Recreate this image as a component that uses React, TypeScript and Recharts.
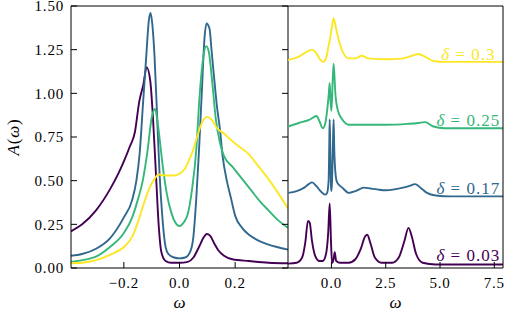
import { LineChart, Line, XAxis, YAxis, ReferenceDot } from "recharts";

// Spectral function A(ω) for four dopings: a zoom on the low-energy window
// (left) and the full-band view with the curves stacked by an offset (right).

const deltas = [0.03, 0.17, 0.25, 0.3];
const colors = ["#440154", "#31688e", "#35b779", "#fde725"];

// ---- left panel: low-energy window ----
const wLow03 = [-0.39, -0.35, -0.3, -0.25, -0.22, -0.2, -0.18, -0.16, -0.145, -0.13, -0.118, -0.105, -0.095, -0.085, -0.075, -0.065, -0.05, -0.03, 0, 0.03, 0.05, 0.07, 0.085, 0.098, 0.11, 0.125, 0.14, 0.16, 0.19, 0.25, 0.32, 0.39];
const aLow03 = [0.21, 0.25, 0.33, 0.45, 0.54, 0.61, 0.69, 0.78, 0.95, 1.05, 1.15, 1.07, 0.85, 0.55, 0.25, 0.09, 0.04, 0.03, 0.03, 0.035, 0.06, 0.12, 0.17, 0.195, 0.185, 0.14, 0.1, 0.07, 0.05, 0.04, 0.03, 0.027];

const wLow17 = [-0.39, -0.35, -0.3, -0.25, -0.2, -0.17, -0.155, -0.143, -0.132, -0.12, -0.11, -0.104, -0.098, -0.09, -0.08, -0.072, -0.062, -0.05, -0.04, -0.02, 0, 0.02, 0.04, 0.05, 0.06, 0.07, 0.08, 0.09, 0.097, 0.108, 0.115, 0.125, 0.135, 0.145, 0.155, 0.17, 0.185, 0.2, 0.225, 0.25, 0.28, 0.31, 0.35, 0.39];
const aLow17 = [0.07, 0.08, 0.11, 0.17, 0.29, 0.39, 0.5, 0.66, 0.92, 1.2, 1.42, 1.46, 1.4, 1.22, 0.85, 0.55, 0.3, 0.12, 0.08, 0.06, 0.055, 0.06, 0.1, 0.18, 0.39, 0.67, 1.0, 1.32, 1.4, 1.37, 1.25, 1.08, 0.92, 0.8, 0.64, 0.5, 0.4, 0.3, 0.23, 0.19, 0.16, 0.14, 0.12, 0.105];

const wLow25 = [-0.39, -0.35, -0.3, -0.25, -0.2, -0.17, -0.15, -0.132, -0.115, -0.1, -0.088, -0.08, -0.07, -0.06, -0.045, -0.03, -0.015, 0, 0.015, 0.03, 0.045, 0.06, 0.072, 0.085, 0.096, 0.105, 0.118, 0.13, 0.145, 0.16, 0.19, 0.23, 0.26, 0.29, 0.32, 0.35, 0.39];
const aLow25 = [0.035, 0.045, 0.065, 0.12, 0.2, 0.29, 0.39, 0.5, 0.67, 0.86, 0.91, 0.85, 0.72, 0.58, 0.42, 0.32, 0.26, 0.24, 0.26, 0.31, 0.45, 0.67, 0.98, 1.2, 1.27, 1.24, 1.06, 0.86, 0.72, 0.64, 0.58, 0.5, 0.44, 0.38, 0.33, 0.28, 0.23];

const wLow30 = [-0.39, -0.35, -0.3, -0.25, -0.2, -0.17, -0.15, -0.132, -0.11, -0.09, -0.075, -0.05, -0.02, 0, 0.02, 0.035, 0.05, 0.065, 0.08, 0.1, 0.115, 0.135, 0.16, 0.18, 0.21, 0.25, 0.28, 0.31, 0.35, 0.39];
const aLow30 = [0.027, 0.03, 0.045, 0.075, 0.12, 0.18, 0.26, 0.35, 0.45, 0.51, 0.535, 0.53, 0.53, 0.54, 0.57, 0.62, 0.68, 0.76, 0.83, 0.865, 0.85, 0.8, 0.77, 0.74, 0.7, 0.65, 0.59, 0.53, 0.44, 0.34];

// ---- right panel: full band, shifted up by offsets ----
const offsets = [0, 0.38, 0.77, 1.15];

const wFull03 = [-2, -1.6, -1.35, -1.2, -1.08, -1, -0.9, -0.75, -0.55, -0.4, -0.25, -0.15, -0.08, -0.02, 0.03, 0.1, 0.15, 0.22, 0.4, 0.8, 1.1, 1.35, 1.55, 1.65, 1.8, 2, 2.3, 2.8, 3.1, 3.35, 3.55, 3.7, 3.9, 4.2, 4.8, 6, 7.9];
const aFull03 = [0.025, 0.03, 0.06, 0.15, 0.27, 0.26, 0.16, 0.07, 0.04, 0.04, 0.08, 0.2, 0.37, 0.15, 0.03, 0.05, 0.09, 0.04, 0.03, 0.03, 0.05, 0.11, 0.18, 0.19, 0.14, 0.06, 0.03, 0.03, 0.06, 0.15, 0.23, 0.18, 0.08, 0.03, 0.02, 0.02, 0.02];

const wFull17 = [-2, -1.6, -1.25, -1.05, -0.89, -0.7, -0.5, -0.3, -0.2, -0.13, -0.1, -0.08, -0.05, -0.02, 0, 0.03, 0.07, 0.1, 0.13, 0.18, 0.26, 0.5, 0.8, 1.1, 1.5, 1.8, 2.1, 2.5, 2.9, 3.3, 3.6, 3.85, 4.1, 4.4, 4.8, 5.5, 7.9];
const aFull17 = [0.05, 0.06, 0.08, 0.1, 0.11, 0.09, 0.06, 0.04, 0.05, 0.12, 0.32, 0.47, 0.27, 0.09, 0.06, 0.12, 0.34, 0.47, 0.3, 0.17, 0.11, 0.08, 0.05, 0.06, 0.08, 0.075, 0.07, 0.065, 0.07, 0.08, 0.09, 0.1, 0.08, 0.05, 0.035, 0.03, 0.03];

const wFull25 = [-2, -1.5, -1, -0.69, -0.55, -0.4, -0.3, -0.2, -0.12, -0.08, -0.04, 0, 0.05, 0.1, 0.18, 0.3, 0.5, 0.8, 1.5, 2.5, 3.5, 4, 4.3, 4.7, 5.2, 7.9];
const aFull25 = [0.04, 0.06, 0.08, 0.1, 0.07, 0.03, 0.05, 0.13, 0.23, 0.29, 0.18, 0.13, 0.28, 0.4, 0.23, 0.13, 0.08, 0.05, 0.05, 0.05, 0.055, 0.06, 0.065, 0.04, 0.03, 0.03];

const wFull30 = [-2, -1.5, -1.1, -0.89, -0.7, -0.5, -0.38, -0.25, -0.12, -0.05, 0.02, 0.1, 0.2, 0.35, 0.55, 0.8, 1.1, 1.4, 1.7, 2.5, 3.3, 3.7, 4, 4.3, 4.7, 5.2, 7.9];
const aFull30 = [0.04, 0.06, 0.09, 0.1, 0.08, 0.04, 0.03, 0.05, 0.13, 0.17, 0.23, 0.28, 0.23, 0.15, 0.08, 0.05, 0.05, 0.065, 0.05, 0.045, 0.05, 0.065, 0.075, 0.06, 0.035, 0.03, 0.03];

const lowTicks = [-0.2, 0, 0.2];
const fullTicks = [0, 2.5, 5, 7.5];
const yTicks = [0, 0.25, 0.5, 0.75, 1, 1.25, 1.5];

const lowCurves = [
  [wLow03, aLow03],
  [wLow17, aLow17],
  [wLow25, aLow25],
  [wLow30, aLow30],
];
const fullCurves = [
  [wFull03, aFull03],
  [wFull17, aFull17],
  [wFull25, aFull25],
  [wFull30, aFull30],
];

const FONT = "Liberation Serif, DejaVu Serif, serif";
const FS = 15;
const TICK = 6;
const LINE_W = 1.9;
const LABEL_LIFT = 0.075;
const LABEL_W = 6.3;

const txt = { fontFamily: FONT, fontSize: FS, letterSpacing: 0.8 };

const toPoints = (w: number[], a: number[], shift = 0) =>
  w.map((x, i) => ({ w: x, a: a[i] + shift }));

const fmt = (v: number, d: number) => v.toFixed(d).replace("-", "\u2212");

function BottomTick({ x, y, payload, digits }: any) {
  return (
    <g>
      <line x1={x} x2={x} y1={y} y2={y - TICK} stroke="#000" strokeWidth={1} />
      <text x={x} y={y + 19.5} textAnchor="middle" style={txt} fill="#000">
        {fmt(payload.value, digits)}
      </text>
    </g>
  );
}

function TopTick({ x, y }: any) {
  return <line x1={x} x2={x} y1={y} y2={y + TICK} stroke="#000" strokeWidth={1} />;
}

function LeftTick({ x, y, payload }: any) {
  return (
    <g>
      <line x1={x} x2={x + TICK} y1={y} y2={y} stroke="#000" strokeWidth={1} />
      <text x={x - 7} y={y} dy="0.36em" textAnchor="end" style={txt} fill="#000">
        {fmt(payload.value, 2)}
      </text>
    </g>
  );
}

function RightTick({ x, y }: any) {
  return <line x1={x} x2={x - TICK} y1={y} y2={y} stroke="#000" strokeWidth={1} />;
}

function OmegaLabel({ viewBox }: any) {
  return (
    <text x={viewBox.x + viewBox.width / 2} y={viewBox.y + 40} textAnchor="middle"
      style={{ fontFamily: FONT, fontSize: 17, fontStyle: "italic" }} fill="#000">
      ω
    </text>
  );
}

function AwLabel({ viewBox }: any) {
  const cx = viewBox.x + viewBox.width - 58;
  const cy = viewBox.y + viewBox.height / 2;
  return (
    <text x={cx} y={cy} transform={`rotate(-90 ${cx} ${cy})`} dy="0.35em" textAnchor="middle"
      style={{ fontFamily: FONT, fontSize: 17, letterSpacing: 0.8 }} fill="#000">
      <tspan fontStyle="italic">A</tspan>(<tspan fontStyle="italic">ω</tspan>)
    </text>
  );
}

const deltaLabel = (d: number, color: string) => ({ viewBox }: any) => (
  <text x={viewBox.x} y={viewBox.y} dy="0.35em" textAnchor="middle"
    style={{ fontFamily: FONT, fontSize: 17, letterSpacing: 1 }} fill={color}>
    <tspan fontStyle="italic">δ</tspan> = {d}
  </text>
);

const axisLine = { stroke: "#000", strokeWidth: 1 };

export default function App() {
  return (
    <div style={{ position: "absolute", left: 0, top: 0, width: 510, height: 316, background: "#fff" }}>
      <div style={{ position: "absolute", left: 0, top: 0 }}>
        <LineChart width={290} height={316} margin={{ top: 5, right: 1, bottom: 8, left: 11 }}>
          <XAxis dataKey="w" type="number" domain={[-0.39, 0.39]} allowDataOverflow ticks={lowTicks} interval={0}
            height={40} tickSize={0} tickMargin={0} tickLine={false} axisLine={axisLine}
            tick={(p: any) => <BottomTick {...p} digits={1} />} label={<OmegaLabel />} />
          <XAxis xAxisId="top" orientation="top" type="number" domain={[-0.39, 0.39]} allowDataOverflow ticks={lowTicks} interval={0}
            height={1} tickSize={0} tickMargin={0} tickLine={false} axisLine={axisLine} tick={<TopTick />} />
          <YAxis type="number" domain={[0, 1.5]} allowDataOverflow ticks={yTicks} interval={0}
            width={60} tickSize={0} tickMargin={0} tickLine={false} axisLine={axisLine}
            tick={<LeftTick />} label={<AwLabel />} />
          <YAxis yAxisId="right" orientation="right" type="number" domain={[0, 1.5]} allowDataOverflow ticks={yTicks} interval={0}
            width={1} tickSize={0} tickMargin={0} tickLine={false} axisLine={axisLine} tick={<RightTick />} />
          {lowCurves.map(([w, a], i) => (
            <Line key={i} data={toPoints(w, a)} dataKey="a" type="monotone" stroke={colors[i]}
              strokeWidth={LINE_W} dot={false} activeDot={false} isAnimationActive={false} />
          ))}
        </LineChart>
      </div>
      <div style={{ position: "absolute", left: 0, top: 0 }}>
        <LineChart width={510} height={316} margin={{ top: 5, right: 6, bottom: 8, left: 288 }}>
          <XAxis dataKey="w" type="number" domain={[-2, 7.9]} allowDataOverflow ticks={fullTicks} interval={0}
            height={40} tickSize={0} tickMargin={0} tickLine={false} axisLine={axisLine}
            tick={(p: any) => <BottomTick {...p} digits={1} />} label={<OmegaLabel />} />
          <XAxis xAxisId="top" orientation="top" type="number" domain={[-2, 7.9]} allowDataOverflow ticks={fullTicks} interval={0}
            height={1} tickSize={0} tickMargin={0} tickLine={false} axisLine={axisLine} tick={<TopTick />} />
          <YAxis type="number" domain={[0, 1.5]} allowDataOverflow width={0} hide />
          <YAxis yAxisId="right" orientation="right" type="number" domain={[0, 1.5]} allowDataOverflow
            width={1} tick={false} tickLine={false} axisLine={axisLine} />
          {fullCurves.map(([w, a], i) => (
            <Line key={i} data={toPoints(w, a, offsets[i])} dataKey="a" type="monotone" stroke={colors[i]}
              strokeWidth={LINE_W} dot={false} activeDot={false} isAnimationActive={false} />
          ))}
          {deltas.map((d, i) => (
            <ReferenceDot key={d} x={LABEL_W} y={offsets[i] + LABEL_LIFT} r={0} fill="none" stroke="none"
              label={deltaLabel(d, colors[i])} />
          ))}
        </LineChart>
      </div>
    </div>
  );
}
